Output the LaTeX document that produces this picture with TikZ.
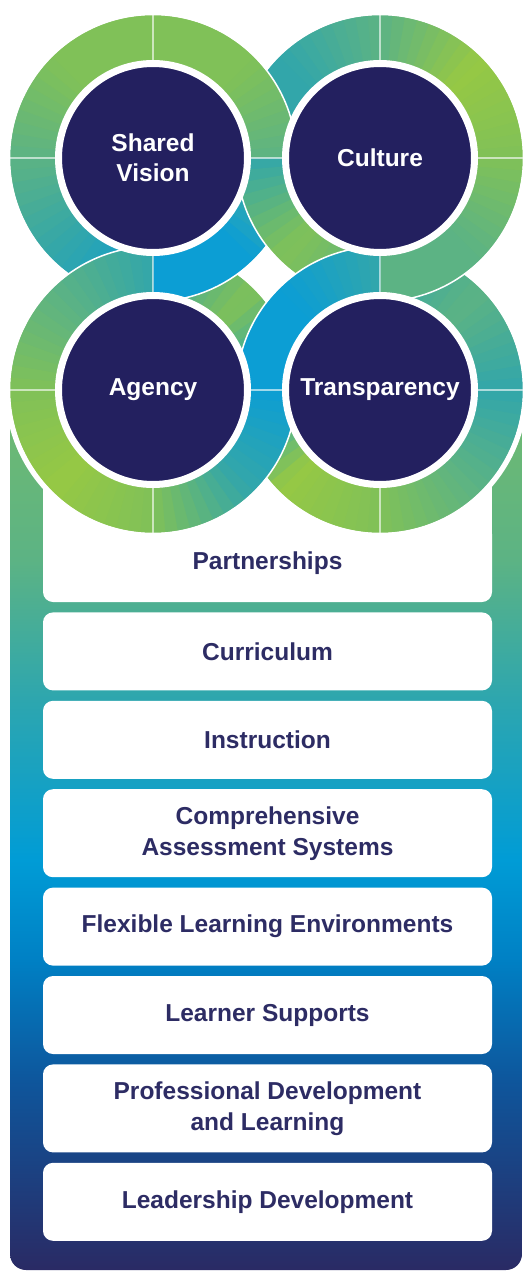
\documentclass[tikz,border=0pt]{standalone}
\usepackage{fontspec}
\setmainfont{Liberation Sans}
\usepackage{tikz}
\definecolor{hubnavy}{RGB}{35,32,95}
\definecolor{tiertext}{RGB}{45,44,100}
\definecolor{ringlime}{RGB}{150,200,68}
\definecolor{ringleaf}{RGB}{128,193,88}
\definecolor{ringsea}{RGB}{92,179,132}
\definecolor{ringteal}{RGB}{50,166,170}
\definecolor{ringaqua}{RGB}{12,158,212}
\definecolor{colA}{RGB}{112,186,112}
\definecolor{colB}{RGB}{92,179,132}
\definecolor{colC}{RGB}{45,166,175}
\definecolor{colD}{RGB}{0,156,214}
\definecolor{colE}{RGB}{0,128,196}
\definecolor{colF}{RGB}{14,86,156}
\definecolor{colG}{RGB}{42,42,100}
\usetikzlibrary{positioning, calc}

% one ring band, colours at 0,45,...,315 degrees
\newcommand{\linkring}[9]{%
  \foreach \a/\ca/\cb in {0/#2/#3, 45/#3/#4, 90/#4/#5, 135/#5/#6, 180/#6/#7, 225/#7/#8, 270/#8/#9, 315/#9/#2} {
    \foreach \k in {0,...,8} {
      \pgfmathsetmacro{\ang}{\a+5*\k}
      \pgfmathtruncatemacro{\pct}{100-(5*\k+2.5)*100/45}
      \fill[fill=\ca!\pct!\cb] (#1) -- ++(\ang:143pt) arc[start angle=\ang, end angle=\ang+5.6, radius=143pt] -- cycle;
    }
  }
  \draw[white, line width=1.5pt] (#1) circle[radius=143.5pt];
  \draw[divider] (#1) ++(-143pt,0) -- ++(286pt,0);
  \draw[divider] (#1) ++(0,-143pt) -- ++(0,286pt);
}
\newcommand{\ringSV}{\linkring{csv}{ringsea}{ringleaf}{ringleaf}{ringleaf}{ringsea}{ringteal}{ringaqua}{ringaqua}}
\newcommand{\ringCU}{\linkring{ccu}{ringleaf}{ringlime}{ringsea}{ringteal}{ringteal}{ringleaf}{ringsea}{ringsea}}
\newcommand{\ringAG}{\linkring{cag}{ringaqua}{ringleaf}{ringteal}{ringsea}{ringleaf}{ringlime}{ringleaf}{ringteal}}
\newcommand{\ringTR}{\linkring{ctr}{ringteal}{ringsea}{ringteal}{ringaqua}{ringaqua}{ringlime}{ringleaf}{ringsea}}

\begin{document}
\begin{tikzpicture}[
    x=1pt, y=-1pt,
    divider/.style={white, opacity=0.6, line width=1.2pt},
    hub/.style={circle, fill=hubnavy, draw=white, line width=7pt, minimum size=189pt, inner sep=0pt,
                text=white, align=center, font=\fontsize{24.5}{30}\selectfont\bfseries},
    tier/.style={rectangle, rounded corners=10pt, fill=white, minimum width=449pt, minimum height=78pt,
                 inner sep=0pt, text=tiertext, align=center, font=\fontsize{24.5}{31}\selectfont\bfseries},
    tall/.style={tier, minimum height=88pt}
]
    \useasboundingbox (0,0) rectangle (531,1271);

    \coordinate (csv) at (153,158);
    \coordinate (ccu) at (380,158);
    \coordinate (cag) at (153,390);
    \coordinate (ctr) at (380,390);

    % column
    \begin{scope}
        \clip[rounded corners=16pt] (10,400) rectangle (522,1270);
        \shade[top color=colA, bottom color=colB] (10,399) rectangle (522,561);
        \shade[top color=colB, bottom color=colC] (10,560) rectangle (522,701);
        \shade[top color=colC, bottom color=colD] (10,700) rectangle (522,861);
        \shade[top color=colD, bottom color=colE] (10,860) rectangle (522,961);
        \shade[top color=colE, bottom color=colF] (10,960) rectangle (522,1081);
        \shade[top color=colF, bottom color=colG] (10,1080) rectangle (522,1271);
    \end{scope}

    \fill[white] (43,420) rectangle (492,540);
    \node[tier] (part) at (267.5,563) {Partnerships};
    \node[tier, below=10pt of part] (curr) {Curriculum};
    \node[tier, below=10pt of curr] (inst) {Instruction};
    \node[tall, below=10pt of inst] (asse) {Comprehensive\\Assessment Systems};
    \node[tier, below=10pt of asse] (flex) {Flexible Learning Environments};
    \node[tier, below=10pt of flex] (supp) {Learner Supports};
    \node[tall, below=10pt of supp] (prof) {Professional Development\\and Learning};
    \node[tier, below=10pt of prof] (lead) {Leadership Development};

    % rings, woven: switch lines on the dividers
    \foreach \c in {csv, ccu, cag, ctr}
        \fill[white] (\c) circle[radius=148pt];
    \ringTR
    \ringAG
    \ringCU
    \ringSV
    \begin{scope}
        \clip (230,158) rectangle (310,320);
        \ringCU
    \end{scope}
    \begin{scope}
        \clip (0,230) rectangle (153,320);
        \ringAG
    \end{scope}
    \begin{scope}
        \clip (236,236) rectangle (380,390);
        \ringTR
    \end{scope}

    \node[hub] (sv) at (csv) {Shared\\Vision};
    \node[hub] (cu) at (ccu) {Culture};
    \node[hub] (ag) at (cag) {Agency};
    \node[hub] (tr) at (ctr) {Transparency};
\end{tikzpicture}
\end{document}
